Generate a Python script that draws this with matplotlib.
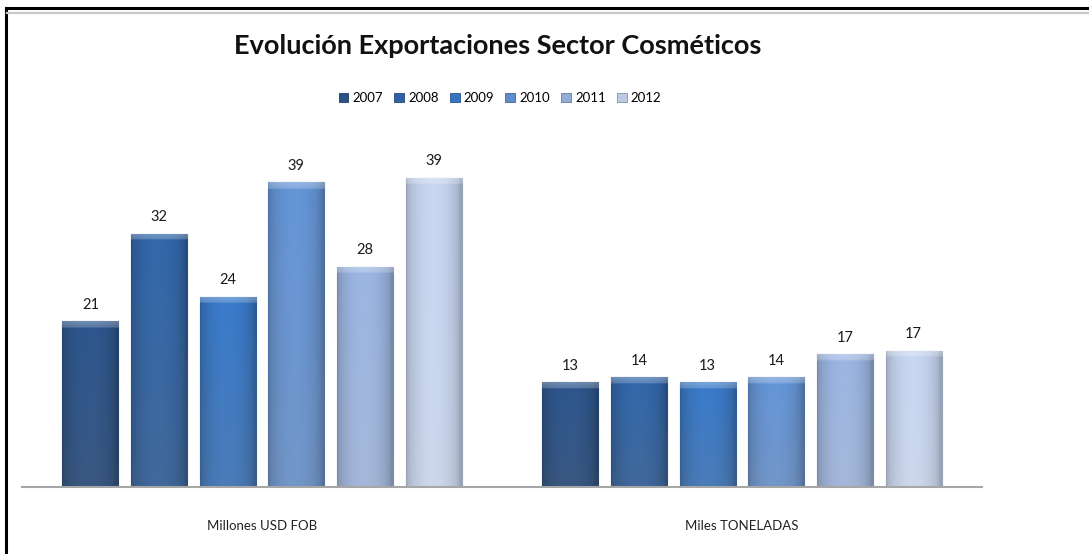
import numpy as np
import matplotlib
matplotlib.use("Agg")
import matplotlib.pyplot as plt
import matplotlib.colors as mcolors
from matplotlib.patches import Patch
from matplotlib.lines import Line2D

# Data
categories = ["Millones USD FOB", "Miles TONELADAS"]
years = ["2007", "2008", "2009", "2010", "2011", "2012"]
values = {
    "2007": [21.0, 13.3],
    "2008": [32.1, 13.9],
    "2009": [24.1, 13.3],
    "2010": [38.6, 13.9],
    "2011": [27.9, 16.8],
    "2012": [39.2, 17.3],
}
colors = ["#2b5287", "#2f62a2", "#3674c0", "#5f8dcc", "#93acd7", "#bccae5"]

W, H, DPI = 1089, 554, 100
fig = plt.figure(figsize=(W / DPI, H / DPI), dpi=DPI)
fig.patch.set_facecolor("white")

ax = fig.add_axes([22 / W, 67 / H, 960 / W, 355 / H])
ax.set_facecolor("white")

n = len(years)
step = 0.143
width = 0.117
x = np.arange(len(categories))
YMAX = 45.0
bevel = 0.8


def shaded_image(color, h):
    base = np.array(mcolors.to_rgb(color))
    nx, ny = 80, 400
    xs = np.linspace(0, 1, nx)
    ys = np.linspace(0, 1, ny)
    hprof = 0.80 + 0.26 * np.sin(np.pi * np.clip(xs * 1.05, 0, 1)) ** 0.5
    img = np.clip(base[None, None, :] * hprof[None, :, None], 0, 1)
    img = np.repeat(img, ny, axis=0)
    gray = img.mean(axis=2, keepdims=True)
    t = (1 - ys)[:, None, None] * 0.25
    img = img * (1 - t) + gray * t
    # soft lighter bevel along the top edge
    frac = min(bevel / h, 0.5)
    d = (ys - (1 - frac)) / frac
    w = np.clip(d, 0, 1)[:, None, None]
    lift = 0.32 * np.where(w > 0, 0.6 + 0.4 * w, 0)
    img = img * (1 - lift) + lift
    return np.clip(img, 0, 1)


for i, (yr, col) in enumerate(zip(years, colors)):
    offs = (i - (n - 1) / 2) * step
    vals = values[yr]
    edge = mcolors.to_hex(np.array(mcolors.to_rgb(col)) * 0.72)
    bars = ax.bar(x + offs, vals, width, color=col, edgecolor=edge,
                  linewidth=0.8, zorder=2, label=yr)
    for b, v in zip(bars, vals):
        x0 = b.get_x()
        im = ax.imshow(shaded_image(col, v), extent=(x0, x0 + width, 0, v),
                       origin="lower", aspect="auto", zorder=2.5,
                       interpolation="bilinear")
        im.set_clip_path(b)
        ax.text(x0 + width / 2, v + 1.2, f"{v:.0f}", ha="center", va="bottom",
                fontsize=10.5, color="#1a1a1a", family="Lato")

ax.set_xlim(-0.5, 1.5)
ax.set_ylim(0, YMAX)
ax.set_yticks([])
ax.set_xticks(x)
ax.set_xticklabels(categories, fontsize=9.5, family="Lato", color="#222222")
ax.tick_params(axis="x", length=0, pad=24)
for s in ["top", "right", "left"]:
    ax.spines[s].set_visible(False)
ax.spines["bottom"].set_color("#a6a6a6")
ax.spines["bottom"].set_linewidth(1.5)

fig.text(498 / W, 1 - 46 / H, "Evolución Exportaciones Sector Cosméticos",
         ha="center", va="center", fontsize=19.5, fontweight="bold",
         family="Lato", color="#111111")

handles = [Patch(facecolor=c, edgecolor=mcolors.to_hex(np.array(mcolors.to_rgb(c)) * 0.72),
                 linewidth=0.6) for c in colors]
fig.legend(handles, years, loc="center", bbox_to_anchor=(500 / W, 1 - 98 / H),
           ncol=6, frameon=False, handlelength=0.75, handleheight=0.75,
           handletextpad=0.3, columnspacing=0.85,
           prop={"family": "Lato", "size": 9.5})

# Outer frame: heavy black line on top and left, thin gray rule under the top
fig.add_artist(Line2D([6 / W, 6 / W], [0, 1 - 8 / H], transform=fig.transFigure,
                      color="black", linewidth=2.2))
fig.add_artist(Line2D([6 / W, 1], [1 - 8 / H, 1 - 8 / H], transform=fig.transFigure,
                      color="black", linewidth=2.2))
fig.add_artist(Line2D([7 / W, 1], [1 - 12.5 / H, 1 - 12.5 / H], transform=fig.transFigure,
                      color="#c8c8c8", linewidth=1.6))

fig.savefig("out.png", dpi=DPI, facecolor="white")
